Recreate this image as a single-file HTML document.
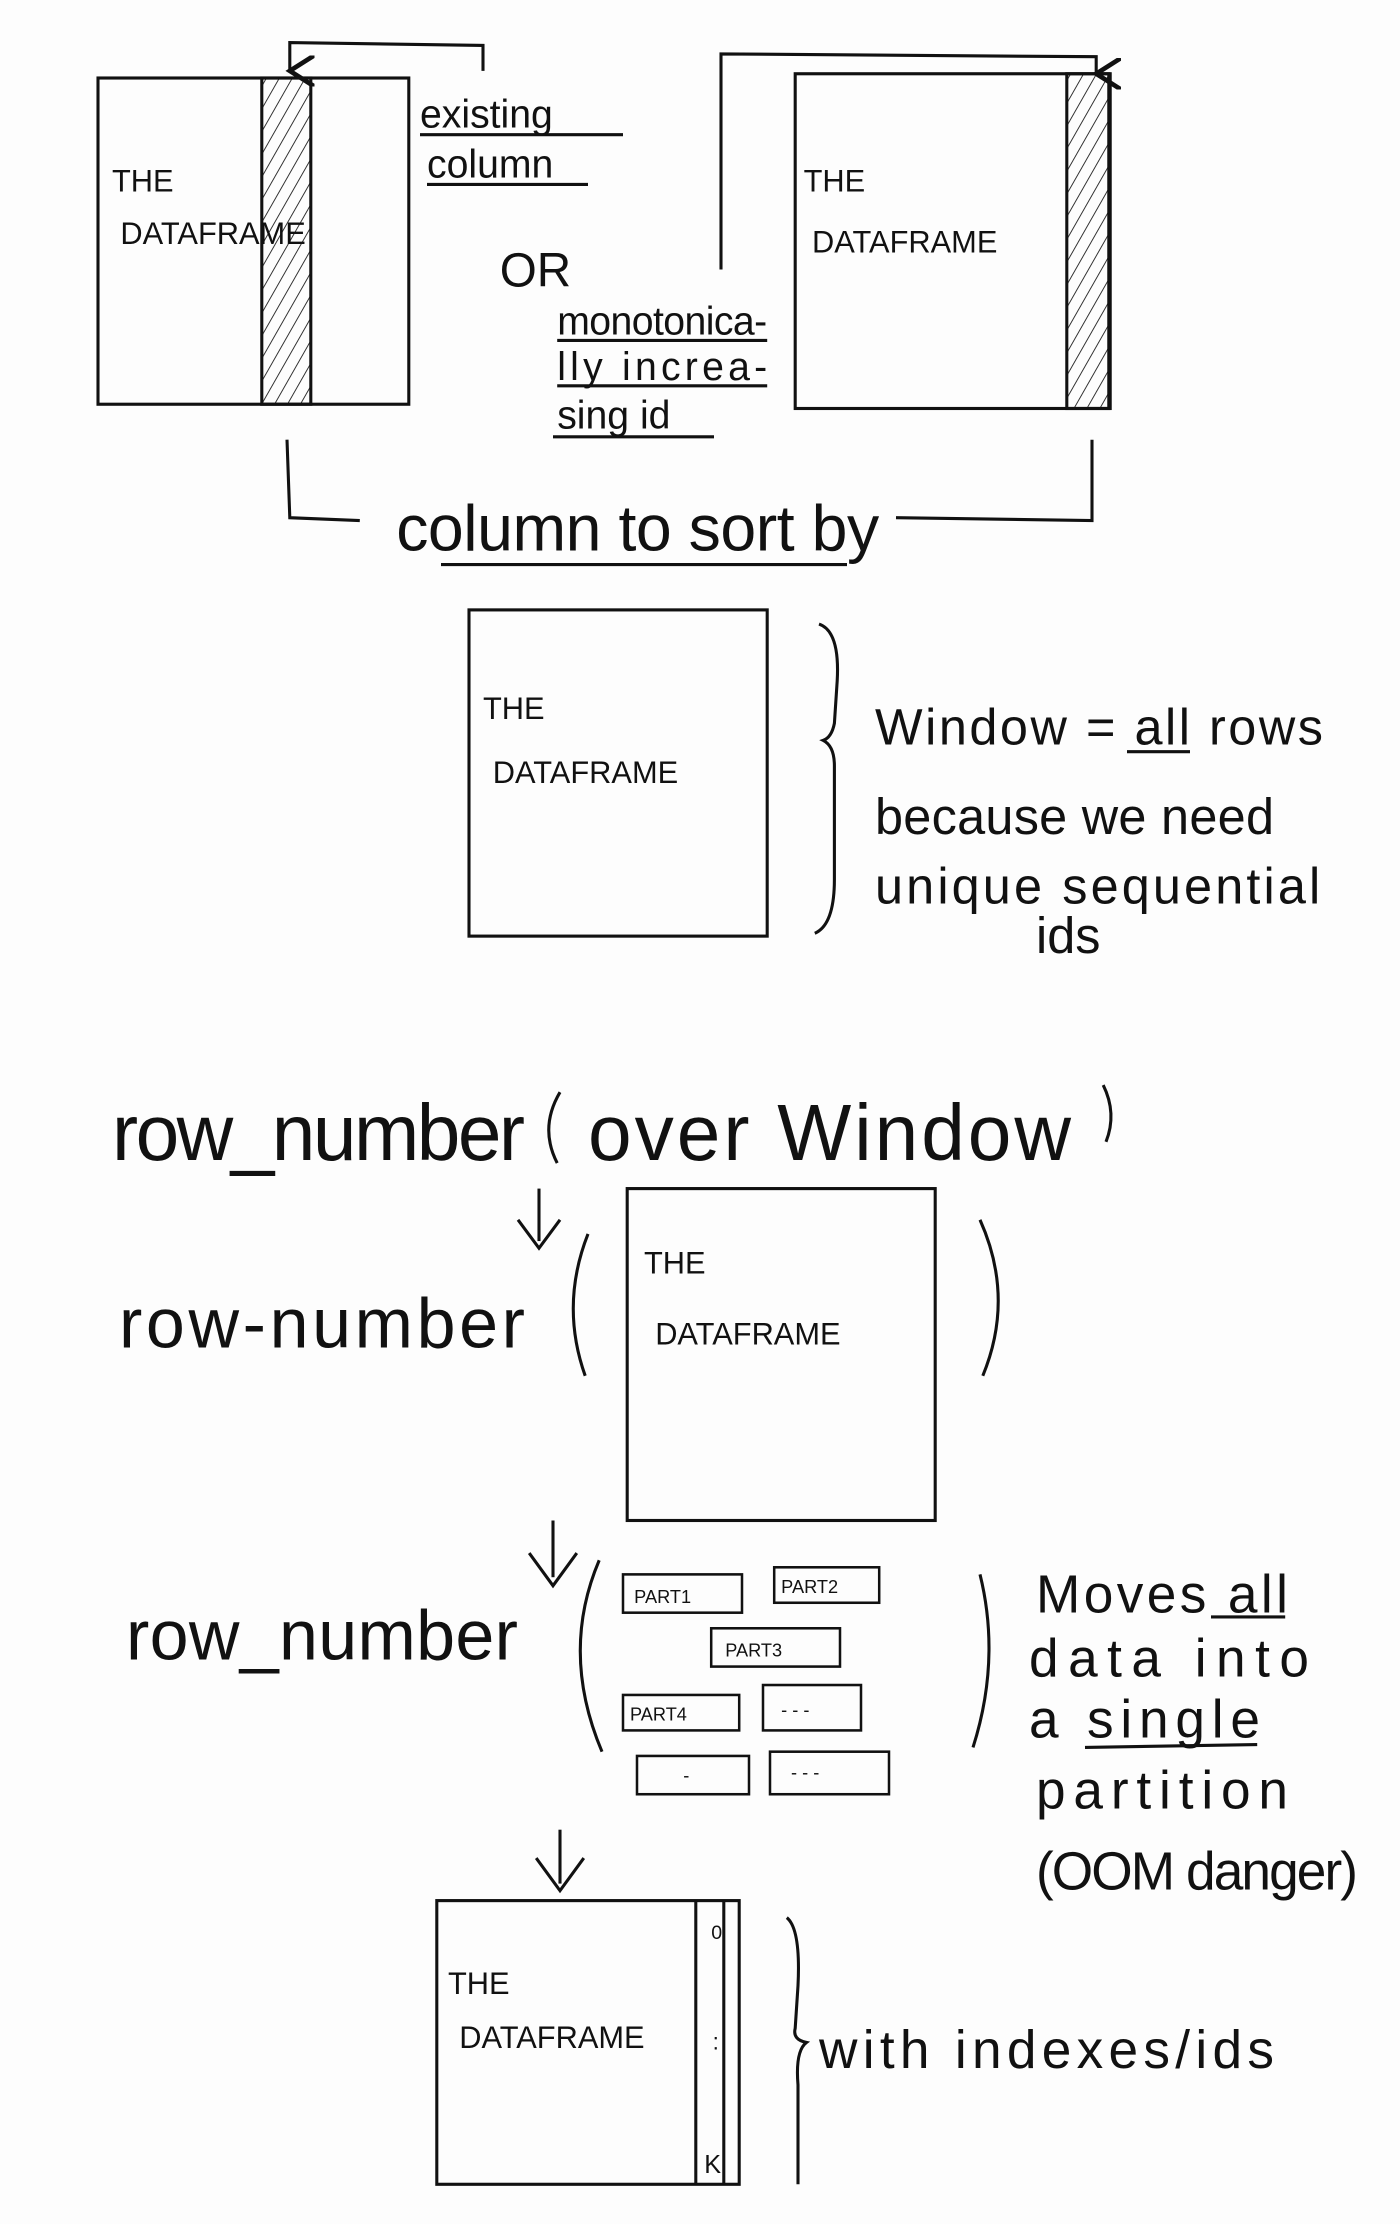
<!DOCTYPE html>
<html><head><meta charset="utf-8"><style>
html,body{margin:0;padding:0;background:#fdfdfd;}
svg{display:block}
text{font-family:"Liberation Sans",sans-serif;fill:#111;}
</style></head><body>
<svg width="1400" height="2224" viewBox="0 0 1000 1568" preserveAspectRatio="none" xmlns="http://www.w3.org/2000/svg">
<defs>
<pattern id="hatch" width="8" height="8" patternUnits="userSpaceOnUse" patternTransform="rotate(30)">
<line x1="0" y1="0" x2="0" y2="8" stroke="#222" stroke-width="1.3"/>
</pattern>
<marker id="ah" markerWidth="10" markerHeight="10" refX="5" refY="8" orient="auto-start-reverse">
<path d="M0,0 L5,8 L10,0" fill="none" stroke="#111" stroke-width="1.5"/>
</marker>
</defs>
<rect width="1000" height="1568" fill="#fdfdfd"/>
<g stroke="#111" stroke-width="2.2" fill="none">
<g>
<rect x="70" y="55" width="222" height="230"/>
<rect x="187" y="55" width="35" height="230" fill="url(#hatch)"/>
</g>
<path d="M345,50 L345,32 L207,30 L207,50" marker-end="url(#ah)"/>
<g>
<rect x="568" y="52" width="225" height="236"/>
<rect x="762" y="52" width="30" height="236" fill="url(#hatch)"/>
</g>
<path d="M515,190 L515,38 L783,40 L783,52" marker-end="url(#ah)"/>
<line x1="300" y1="95" x2="445" y2="95"/>
<line x1="305" y1="130" x2="420" y2="130"/>
<line x1="398" y1="240" x2="548" y2="240"/>
<line x1="398" y1="272" x2="548" y2="272"/>
<line x1="395" y1="308" x2="510" y2="308"/>
<path d="M205,310 L207,365 L257,367"/>
<path d="M640,365 L780,367 L780,310"/>
<line x1="315" y1="398" x2="605" y2="398"/>
<rect x="335" y="430" width="213" height="230"/>
<path d="M585,440 Q600,445 598,480 L596,510 Q594,520 588,522 Q596,526 596,540 L596,620 Q596,652 582,658"/>
<line x1="805" y1="530" x2="850" y2="530"/>
<path d="M400,770 Q385,795 398,820"/>
<path d="M788,765 Q798,785 790,805"/>
<g><line x1="385" y1="838" x2="385" y2="875"/><path d="M370,860 L385,880 L400,860"/></g>
<path d="M420,870 Q400,920 418,970"/>
<rect x="448" y="838" width="220" height="234"/>
<path d="M700,860 Q725,915 702,970"/>
<g><line x1="395" y1="1072" x2="395" y2="1112"/><path d="M378,1095 L395,1118 L412,1095"/></g>
<path d="M428,1100 Q400,1165 430,1235"/>
<g stroke-width="1.8">
<rect x="445" y="1110" width="85" height="27"/>
<rect x="553" y="1105" width="75" height="25"/>
<rect x="508" y="1148" width="92" height="27"/>
<rect x="445" y="1195" width="83" height="25"/>
<rect x="545" y="1188" width="70" height="32"/>
<rect x="455" y="1238" width="80" height="27"/>
<rect x="550" y="1235" width="85" height="30"/>
</g>
<path d="M700,1110 Q715,1170 695,1232"/>
<line x1="865" y1="1140" x2="918" y2="1140"/>
<line x1="775" y1="1232" x2="898" y2="1230"/>
<g><line x1="400" y1="1290" x2="400" y2="1328"/><path d="M383,1310 L400,1333 L417,1310"/></g>
<g>
<rect x="312" y="1340" width="216" height="200"/>
<line x1="497" y1="1340" x2="497" y2="1540"/>
<line x1="517" y1="1340" x2="517" y2="1540"/>
</g>
<path d="M562,1352 Q572,1360 570,1400 L568,1430 Q566,1438 576,1440 Q568,1446 570,1470 L570,1540"/>
</g>
<g font-size="22">
<text x="80" y="135">THE</text>
<text x="86" y="172">DATAFRAME</text>
<text x="574" y="135">THE</text>
<text x="580" y="178">DATAFRAME</text>
</g>
<g font-size="28">
<text x="300" y="90">existing</text>
<text x="305" y="125">column</text>
<text x="357" y="202" font-size="34">OR</text>
<text x="398" y="236" textLength="150">monotonica-</text>
<text x="398" y="268" textLength="150">lly increa-</text>
<text x="398" y="302">sing id</text>
</g>
<text x="283" y="388" font-size="46" textLength="345">column to sort by</text>
<text x="345" y="507" font-size="22">THE</text>
<text x="352" y="552" font-size="22">DATAFRAME</text>
<g font-size="36">
<text x="625" y="525" textLength="320">Window = all rows</text>
<text x="625" y="588" textLength="285">because we need</text>
<text x="625" y="637" textLength="318">unique sequential</text>
<text x="740" y="672">ids</text>
</g>
<text x="80" y="818" font-size="56" textLength="295">row_number</text>
<text x="420" y="818" font-size="56" textLength="345">over Window</text>
<text x="85" y="950" font-size="50" textLength="290">row-number</text>
<text x="460" y="898" font-size="22">THE</text>
<text x="468" y="948" font-size="22">DATAFRAME</text>
<text x="90" y="1170" font-size="50" textLength="280">row_number</text>
<g font-size="13">
<text x="453" y="1130">PART1</text>
<text x="558" y="1123">PART2</text>
<text x="518" y="1168">PART3</text>
<text x="450" y="1213">PART4</text>
<text x="558" y="1210">- - -</text>
<text x="488" y="1256">-</text>
<text x="565" y="1254">- - -</text>
</g>
<g font-size="38">
<text x="740" y="1137" textLength="180">Moves all</text>
<text x="735" y="1182" textLength="200">data into</text>
<text x="735" y="1225" textLength="165">a single</text>
<text x="740" y="1275" textLength="180">partition</text>
<text x="740" y="1332" textLength="230">(OOM danger)</text>
</g>
<text x="320" y="1406" font-size="22">THE</text>
<text x="328" y="1444" font-size="22">DATAFRAME</text>
<text x="508" y="1367" font-size="14">0</text>
<text x="509" y="1445" font-size="16">:</text>
<text x="503" y="1532" font-size="18">K</text>
<text x="585" y="1458" font-size="38" textLength="325">with indexes/ids</text>
</svg>
</body></html>
